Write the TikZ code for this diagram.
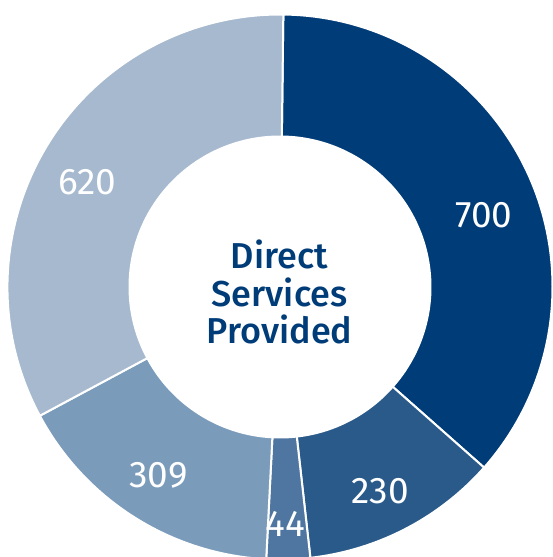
\documentclass[tikz,border=0pt]{standalone}
\usepackage{fontspec}
\newfontfamily\titlefont{Fira Sans Medium}
\newfontfamily\valuefont{Fira Sans}
\usepackage{tikz}
\definecolor{c700}{HTML}{003C78}
\definecolor{c230}{HTML}{2A5A8A}
\definecolor{c44}{HTML}{4E76A0}
\definecolor{c309}{HTML}{7B9BBB}
\definecolor{c620}{HTML}{A6B9CF}
\tikzset{ w/.style = { draw = white % wedge
        , line width = 2bp
        }
        , v/.style = { inner sep = 0pt % value
        , text = white
        , font = \valuefont\fontsize{37bp}{40bp}\selectfont
        }
        }

\begin{document}
\begin{tikzpicture}[x=1bp, y=1bp,
        title_node_style/.style={align=center,inner sep=0pt,text=c700,font=\titlefont\fontsize{36bp}{37.5bp}\selectfont}]
        \useasboundingbox (-280,-270) rectangle (273,287);
        \clip (-280,-270) rectangle (273,287);
        \coordinate (c) at (0,0);

        \filldraw [w, fill=c700] (89.3:150.5bp) -- (89.3:272.5bp) arc [start angle=89.3, end angle=-41.5, radius=272.5bp] -- (-41.5:150.5bp) arc [start angle=-41.5, end angle=89.3, radius=150.5bp] -- cycle;
        \filldraw [w, fill=c230] (-41.5:150.5bp) -- (-41.5:272.5bp) arc [start angle=-41.5, end angle=-83.6, radius=272.5bp] -- (-83.6:150.5bp) arc [start angle=-83.6, end angle=-41.5, radius=150.5bp] -- cycle;
        \filldraw [w, fill=c44] (-83.6:150.5bp) -- (-83.6:272.5bp) arc [start angle=-83.6, end angle=-92.9, radius=272.5bp] -- (-92.9:150.5bp) arc [start angle=-92.9, end angle=-83.6, radius=150.5bp] -- cycle;
        \filldraw [w, fill=c309] (-92.9:150.5bp) -- (-92.9:272.5bp) arc [start angle=-92.9, end angle=-151.8, radius=272.5bp] -- (-151.8:150.5bp) arc [start angle=-151.8, end angle=-92.9, radius=150.5bp] -- cycle;
        \filldraw [w, fill=c620] (-151.8:150.5bp) -- (-151.8:272.5bp) arc [start angle=-151.8, end angle=-270.7, radius=272.5bp] -- (89.3:150.5bp) arc [start angle=-270.7, end angle=-151.8, radius=150.5bp] -- cycle;

        \node [v] (v700) at (204,71.5) {700};
        \node [v] (v230) at (100.4,-204.2) {230};
        \node [v] (v44) at (5,-237) {44};
        \node [v] (v309) at (-121.6,-188.3) {309};
        \node [v] (v620) at (-192.7,105.3) {620};

        \node [title_node_style] (title) at (-0.5,-5) {Direct\\Services\\Provided};
\end{tikzpicture}
\end{document}
